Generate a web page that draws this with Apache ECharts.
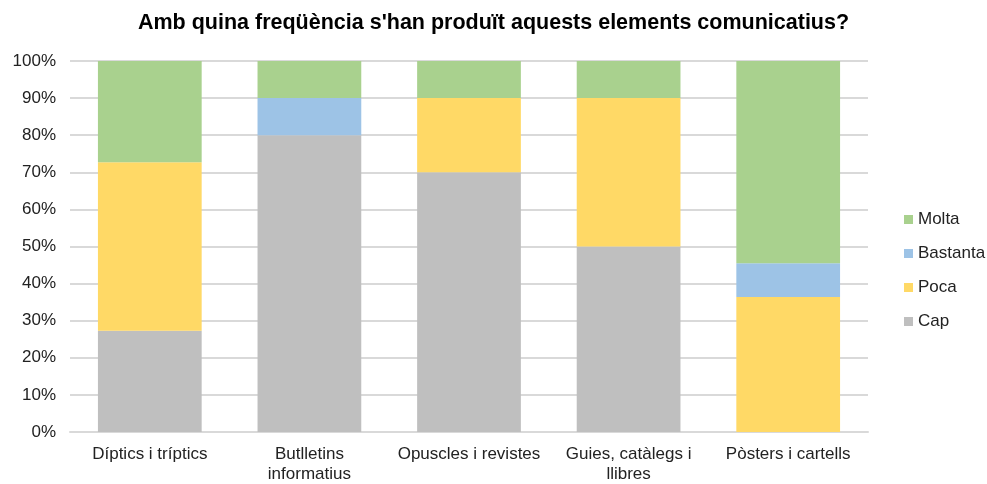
<!DOCTYPE html>
<html style="height: 100%; margin: 0">
<head>
<meta charset="UTF-8">
<title>Elements comunicatius</title>
</head>
<body style="height: 100%; margin: 0; background: #fff">
<div id="container" style="width: 987px; height: 484px"></div>
<script type="text/javascript" src="https://cdn.jsdelivr.net/npm/echarts@6/dist/echarts.min.js"></script>
<script type="text/javascript">
	var categories = ['Díptics i tríptics', 'Butlletins\ninformatius', 'Opuscles i revistes', 'Guies, catàlegs i\nllibres', 'Pòsters i cartells'];
	// percentatges per categoria
	var cap = [27.3, 80, 70, 50, 0];
	var poca = [45.4, 0, 20, 40, 36.4];
	var bastanta = [0, 10, 0, 0, 9.1];
	var molta = [27.3, 10, 10, 10, 54.5];
	var yTicks = [0, 10, 20, 30, 40, 50, 60, 70, 80, 90, 100];

	var font = 'Liberation Sans, Arial, sans-serif';
	var dom = document.getElementById("container");
	var myChart = echarts.init(dom);

	function bar(name, data, color) {
		return {
			name: name,
			type: 'bar',
			stack: 'total',
			barCategoryGap: '35%',
			itemStyle: { color: color },
			data: data
		};
	}

	var option = {
		animation: false,
		title: {
			text: "Amb quina freqüència s'han produït aquests elements comunicatius?",
			left: 'center',
			top: 7,
			textStyle: { fontFamily: font, fontSize: 21.5, fontWeight: 'bold', color: '#000' }
		},
		legend: {
			orient: 'vertical',
			left: 899,
			top: 206,
			itemWidth: 9,
			itemHeight: 9,
			itemGap: 17,
			icon: 'rect',
			textStyle: { fontFamily: font, fontSize: 17, color: '#222' },
			data: ['Molta', 'Bastanta', 'Poca', 'Cap']
		},
		grid: { left: 70, right: 119, top: 61, bottom: 49 },
		xAxis: {
			type: 'category',
			data: categories,
			axisTick: { show: false },
			axisLine: { lineStyle: { color: '#d9d9d9', width: 2 } },
			axisLabel: { fontFamily: font, fontSize: 17, color: '#222', interval: 0, margin: 12, lineHeight: 20 }
		},
		yAxis: {
			type: 'value',
			min: yTicks[0],
			max: yTicks[yTicks.length - 1],
			interval: 10,
			axisLine: { show: false },
			axisTick: { show: false },
			splitLine: { lineStyle: { color: '#d9d9d9', width: 2 } },
			axisLabel: { fontFamily: font, fontSize: 17, color: '#222', margin: 14, formatter: '{value}%' }
		},
		series: [
			bar('Cap', cap, '#bfbfbf'),
			bar('Poca', poca, '#ffd966'),
			bar('Bastanta', bastanta, '#9dc3e6'),
			bar('Molta', molta, '#a9d18e')
		]
	};
	myChart.setOption(option, true);
</script>
</body>
</html>
